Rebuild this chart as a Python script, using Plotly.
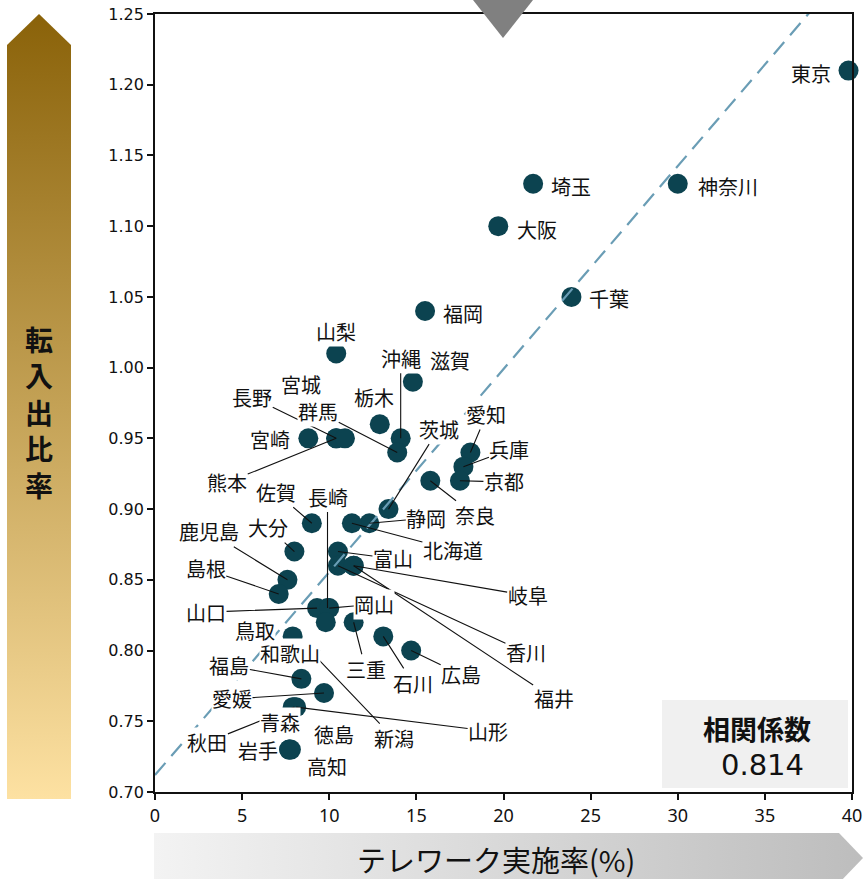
import plotly.graph_objects as go

W, H = 864, 879

# ---------------- data ----------------
prefectures = ["東京", "神奈川", "埼玉", "大阪", "千葉", "福岡", "山梨", "滋賀", "栃木", "沖縄",
               "群馬", "宮崎", "長野", "熊本", "宮城", "茨城", "愛知", "兵庫", "京都", "奈良",
               "静岡", "北海道", "佐賀", "大分", "鹿児島", "島根", "富山", "岐阜", "香川", "福井",
               "長崎", "山口", "岡山", "鳥取", "三重", "石川", "広島", "和歌山", "福島", "愛媛",
               "新潟", "山形", "青森", "秋田", "岩手", "徳島", "高知"]
telework = [39.8, 30.0, 21.7, 19.7, 23.9, 15.5, 10.4, 14.8, 12.9, 14.1,
            13.9, 8.8, 10.4, 10.4, 10.9, 13.4, 18.1, 17.7, 17.5, 15.8,
            12.3, 11.3, 9.0, 8.0, 7.6, 7.1, 10.5, 11.4, 10.5, 11.4,
            9.9, 9.3, 10.0, 7.9, 11.4, 13.1, 14.7, 9.8, 8.4, 9.7,
            8.9, 8.1, 7.9, 8.0, 7.7, 7.8, 7.7]
ratio = [1.21, 1.13, 1.13, 1.10, 1.05, 1.04, 1.01, 0.99, 0.96, 0.95,
         0.94, 0.95, 0.95, 0.95, 0.95, 0.90, 0.94, 0.93, 0.92, 0.92,
         0.89, 0.89, 0.89, 0.87, 0.85, 0.84, 0.87, 0.86, 0.86, 0.86,
         0.83, 0.83, 0.83, 0.81, 0.82, 0.81, 0.80, 0.82, 0.78, 0.77,
         0.80, 0.76, 0.76, 0.76, 0.73, 0.73, 0.73]

trend_intercept = 0.712
trend_slope = 0.01435
correlation_label = "相関係数"
correlation_value = "0.814"

x_tick_values = [0, 5, 10, 15, 20, 25, 30, 35, 40]
y_tick_values = [0.70, 0.75, 0.80, 0.85, 0.90, 0.95, 1.00, 1.05, 1.10, 1.15, 1.20, 1.25]
x_title = "テレワーク実施率(%)"
y_title = "転入出比率"

# ---------------- label placement (pixel offsets, leader line flag) ----------------
label_offsets = {
    "長野": (-84, -41, True), "熊本": (-109, 44, True), "群馬": (-79, -41, True),
    "沖縄": (0, -80, True), "茨城": (50, -80, True), "愛知": (16, -38, True),
    "兵庫": (46, -17, True), "京都": (44, 1, True), "奈良": (45, 35, True),
    "静岡": (57, -5, True), "北海道": (101, 27, True), "佐賀": (-36, -31, True),
    "長崎": (0, -111, True), "大分": (-26, -24, True), "鹿児島": (-78, -48, True),
    "島根": (-73, -25, True), "富山": (55, 7, True), "岐阜": (174, 30, True),
    "香川": (188, 87, True), "福井": (200, 133, True), "山口": (-111, 4, True),
    "岡山": (45, -4, True), "三重": (12, 47, True), "石川": (30, 47, True),
    "広島": (50, 24, True), "福島": (-72, -13, True), "愛媛": (-92, 6, True),
    "新潟": (84, 88, True), "山形": (192, 24, True), "秋田": (-87, 35, True),
    "東京": (-38, 3, False), "神奈川": (50, 3, False), "埼玉": (38, 3, False),
    "大阪": (39, 3, False), "千葉": (38, 2, False), "福岡": (38, 2, False),
    "山梨": (0, -22, False), "滋賀": (37, -21, False), "栃木": (-6, -27, False),
    "宮崎": (-38, 1, False), "宮城": (-44, -54, False),
    "和歌山": (-36, 31, False), "鳥取": (-38, -6, False), "青森": (-13, 15, False),
    "岩手": (-31, 1, False), "徳島": (43, -15, False), "高知": (38, 17, False),
}

MARKER = "#0C4350"
TREND = "#6A9DB5"
FONT = "Noto Sans CJK JP"


def pxx(p):
    return p / W


def pxy(p):
    return 1 - p / H


fig = go.Figure()

# gradient arrows (pixel space overlay axes)
fig.add_trace(go.Scatter(
    x=[7, 7, 39, 71, 71, 7], y=[H - 799, H - 45, H - 14, H - 45, H - 799, H - 799],
    xaxis="x2", yaxis="y2", mode="none", fill="toself",
    fillgradient=dict(type="vertical", start=H - 799, stop=H - 14,
                      colorscale=[[0, "#FDE1A2"], [1, "#8A6209"]]),
    hoverinfo="skip", showlegend=False))
fig.add_trace(go.Scatter(
    x=[154, 839, 863, 839, 154, 154], y=[H - 833, H - 833, H - 858, H - 883, H - 883, H - 833],
    xaxis="x2", yaxis="y2", mode="none", fill="toself",
    fillgradient=dict(type="horizontal", start=154, stop=863,
                      colorscale=[[0, "#F3F3F3"], [1, "#BDBDBD"]]),
    hoverinfo="skip", showlegend=False))

# data points
fig.add_trace(go.Scatter(
    x=telework, y=ratio, mode="markers", text=prefectures,
    marker=dict(size=20, color=MARKER, line=dict(width=0)),
    cliponaxis=False, showlegend=False))

# trend line
fig.add_trace(go.Scatter(
    x=[0, 40], y=[trend_intercept, trend_intercept + trend_slope * 40],
    mode="lines", line=dict(color=TREND, width=2.2, dash="16px,9px"),
    showlegend=False, hoverinfo="skip"))

annotations = []
idx = {n: i for i, n in enumerate(prefectures)}
for name, (dx, dy, line) in label_offsets.items():
    i = idx[name]
    annotations.append(dict(
        x=telework[i], y=ratio[i], xref="x", yref="y", ax=dx, ay=dy,
        text=name, showarrow=True, arrowhead=0, arrowwidth=1.1,
        arrowcolor="#111111" if line else "rgba(0,0,0,0)",
        standoff=0, startstandoff=0, bgcolor="white",
        borderpad=0, font=dict(family=FONT, size=20, color="#111111")))

# correlation box text
annotations.append(dict(x=pxx(757), y=pxy(728), xref="paper", yref="paper", showarrow=False,
                        xanchor="center", yanchor="middle",
                        text="<b>" + correlation_label + "</b>",
                        font=dict(family=FONT, size=27, color="#111111")))
annotations.append(dict(x=pxx(762), y=pxy(765), xref="paper", yref="paper", showarrow=False,
                        xanchor="center", yanchor="middle",
                        text=correlation_value,
                        font=dict(family="DejaVu Sans", size=29, color="#111111")))
# axis titles on the arrows
annotations.append(dict(x=pxx(39), y=pxy(412), xref="paper", yref="paper", showarrow=False,
                        xanchor="center", yanchor="middle",
                        text="<br>".join("<b>" + c + "</b>" for c in y_title),
                        font=dict(family=FONT, size=28, color="#111111")))
annotations.append(dict(x=pxx(496), y=pxy(859), xref="paper", yref="paper", showarrow=False,
                        xanchor="center", yanchor="middle",
                        text=x_title, font=dict(family=FONT, size=29, color="#111111")))

shapes = [
    dict(type="rect", xref="paper", yref="paper", x0=pxx(662), x1=pxx(848),
         y0=pxy(788), y1=pxy(700), fillcolor="#F0F0F0", line=dict(width=0), layer="below"),
    dict(type="path", xref="paper", yref="paper",
         path=f"M {pxx(473)} {pxy(0)} L {pxx(533)} {pxy(0)} L {pxx(503)} {pxy(38)} Z",
         fillcolor="#808080", line=dict(width=0), layer="above"),
]

fig.update_layout(
    width=W, height=H, margin=dict(l=0, r=0, t=0, b=0),
    paper_bgcolor="white", plot_bgcolor="rgba(0,0,0,0)",
    showlegend=False,
    xaxis=dict(domain=[155 / W, 852 / W], range=[0, 40], tickvals=x_tick_values,
               showgrid=False, zeroline=False, showline=True, linecolor="#111111", linewidth=1.8,
               mirror=True, ticks="outside", ticklen=6, tickwidth=1.5, tickcolor="#111111",
               tickfont=dict(family="Noto Sans", size=18, color="#111111"), automargin=False),
    yaxis=dict(domain=[1 - 792 / H, 1 - 14 / H], range=[0.70, 1.25], tickvals=y_tick_values,
               tickformat=".2f", showgrid=False, zeroline=False, showline=True,
               linecolor="#111111", linewidth=1.8, mirror=True, ticks="outside", ticklen=6,
               tickwidth=1.5, tickcolor="#111111",
               tickfont=dict(family="DejaVu Sans", size=16, color="#111111"), automargin=False),
    xaxis2=dict(domain=[0, 1], range=[0, W], visible=False, anchor="y2", fixedrange=True),
    yaxis2=dict(domain=[0, 1], range=[0, H], visible=False, anchor="x2", fixedrange=True),
    annotations=annotations, shapes=shapes,
)

fig.write_html("out.html")
